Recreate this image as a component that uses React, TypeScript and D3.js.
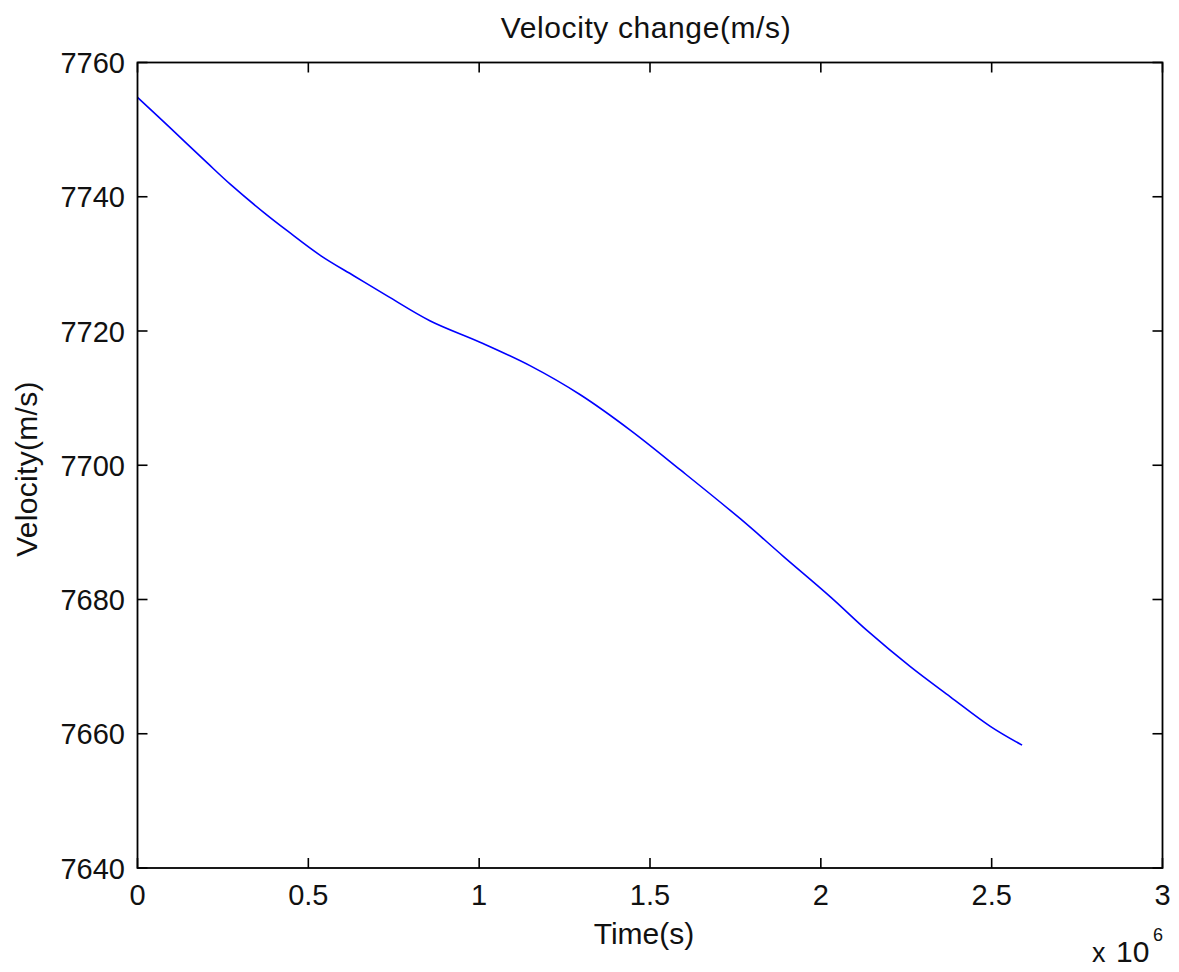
import React from "react";
import * as d3 from "d3";

// Time in units of 1e6 s
const timeData: number[] = [0, 0.095, 0.205, 0.273, 0.371, 0.439, 0.537, 0.634, 0.732, 0.857, 1.004, 1.15, 1.296, 1.443, 1.589, 1.765, 1.891, 2.028, 2.135, 2.262, 2.379, 2.496, 2.589];
const velocityData: number[] = [7754.8, 7750.3, 7745.0, 7741.8, 7737.6, 7734.9, 7731.2, 7728.2, 7725.2, 7721.5, 7718.3, 7714.8, 7710.5, 7705.2, 7699.3, 7692.0, 7686.4, 7680.4, 7675.4, 7670.0, 7665.5, 7661.1, 7658.3];
const xTicks: number[] = [0, 0.5, 1, 1.5, 2, 2.5, 3];
const yTicks: number[] = [7640, 7660, 7680, 7700, 7720, 7740, 7760];
const titleText = "Velocity change(m/s)";
const xLabel = "Time(s)";
const yLabel = "Velocity(m/s)";

const W = 1179;
const H = 972;
const left = 137.5;
const right = 1162.5;
const top = 62.5;
const bottom = 868;
const FONT = "'Liberation Sans', Arial, sans-serif";

export default function App() {
  const x = d3.scaleLinear().domain([0, 3]).range([left, right]);
  const y = d3.scaleLinear().domain([7640, 7760]).range([bottom, top]);
  const pts = timeData.map((t, i) => [t, velocityData[i]] as [number, number]);
  const line = d3
    .line<[number, number]>()
    .x((d) => x(d[0]))
    .y((d) => y(d[1]))
    .curve(d3.curveCatmullRom.alpha(0.5));
  const tl = 10;
  return (
    <div style={{ position: "absolute", left: 0, top: 0 }}>
      <svg width={W} height={H} style={{ display: "block", background: "#fff" }}>
        <rect x={0} y={0} width={W} height={H} fill="#fff" />
        <path d={line(pts) || ""} fill="none" stroke="#0000ff" strokeWidth={1.6} />
        <rect x={left} y={top} width={right - left} height={bottom - top} fill="none" stroke="#000" strokeWidth={1.8} />
        {xTicks.map((t) => (
          <g key={"xt" + t}>
            <line x1={x(t)} x2={x(t)} y1={bottom} y2={bottom - tl} stroke="#000" strokeWidth={1.6} />
            <line x1={x(t)} x2={x(t)} y1={top} y2={top + tl} stroke="#000" strokeWidth={1.6} />
            <text x={x(t)} y={905} textAnchor="middle" fontFamily={FONT} fontSize={29} fill="#111">
              {String(t)}
            </text>
          </g>
        ))}
        {yTicks.map((v) => (
          <g key={"yt" + v}>
            <line x1={left} x2={left + tl} y1={y(v)} y2={y(v)} stroke="#000" strokeWidth={1.6} />
            <line x1={right} x2={right - tl} y1={y(v)} y2={y(v)} stroke="#000" strokeWidth={1.6} />
            <text x={125} y={y(v) + 10.5} textAnchor="end" fontFamily={FONT} fontSize={29} fill="#111">
              {String(v)}
            </text>
          </g>
        ))}
        <text x={646} y={38} textAnchor="middle" fontFamily={FONT} fontSize={30} letterSpacing={0.6} fill="#111">
          {titleText}
        </text>
        <text x={644} y={944} textAnchor="middle" fontFamily={FONT} fontSize={30} fill="#111">
          {xLabel}
        </text>
        <text
          transform={`translate(37, 469) rotate(-90)`}
          textAnchor="middle"
          fontFamily={FONT}
          fontSize={30}
          letterSpacing={0.3}
          fill="#111"
        >
          {yLabel}
        </text>
        <text x={1092} y={962} fontFamily={FONT} fontSize={27} fill="#111">
          x
        </text>
        <text x={1116} y={962} fontFamily={FONT} fontSize={30} fill="#111">
          10
        </text>
        <text x={1153} y={941} fontFamily={FONT} fontSize={18} fill="#111">
          6
        </text>
      </svg>
    </div>
  );
}
